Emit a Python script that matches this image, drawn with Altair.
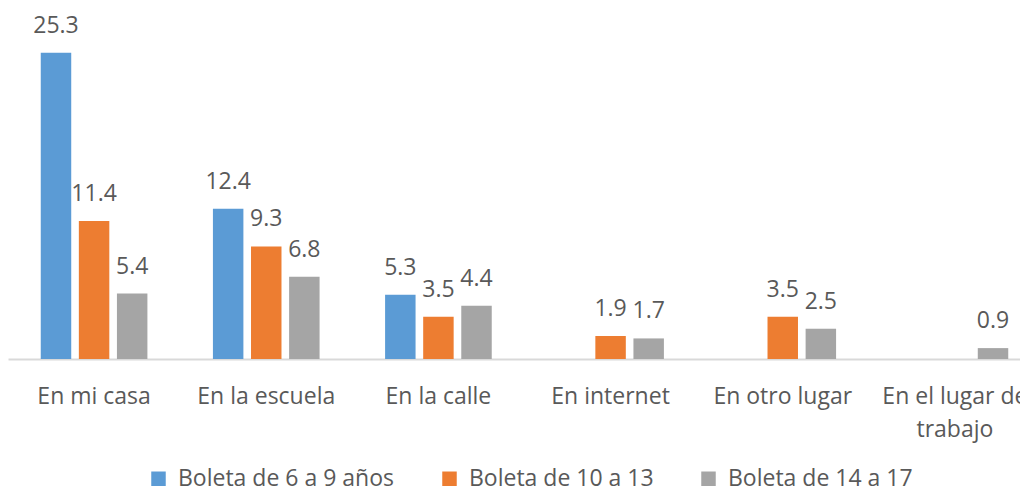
import altair as alt
import pandas as pd

categories = ["En mi casa", "En la escuela", "En la calle", "En internet",
              "En otro lugar", "En el lugar de trabajo"]
series = ["Boleta de 6 a 9 años", "Boleta de 10 a 13", "Boleta de 14 a 17"]
values_6_9 = [25.3, 12.4, 5.3, None, None, None]
values_10_13 = [11.4, 9.3, 3.5, 1.9, 3.5, None]
values_14_17 = [5.4, 6.8, 4.4, 1.7, 2.5, 0.9]
colors = ["#5B9BD5", "#ED7D31", "#A5A5A5"]

rows = []
for s, vals in zip(series, [values_6_9, values_10_13, values_14_17]):
    for c, v in zip(categories, vals):
        if v is not None:
            rows.append({"cat": c, "serie": s, "valor": v})
df = pd.DataFrame(rows)

FONT = "Open Sans"
TXT = "#595959"
FS = 23

x = alt.X(
    "cat:N", sort=categories,
    scale=alt.Scale(domain=categories, paddingInner=0, paddingOuter=0),
    axis=alt.Axis(
        title=None, labelAngle=0, ticks=False, domainColor="#D9D9D9", domainWidth=2,
        labelFont=FONT, labelFontSize=FS, labelColor=TXT, labelPadding=26,
        labelLimit=0, labelLineHeight=33,
        labelExpr="datum.label == 'En el lugar de trabajo' ? ['En el lugar de', 'trabajo'] : datum.label",
    ),
)
xo = alt.XOffset("serie:N", sort=series,
                 scale=alt.Scale(domain=series, paddingInner=0.2, paddingOuter=0.86))
y = alt.Y("valor:Q", scale=alt.Scale(domain=[0, 28], nice=False), axis=None)
color = alt.Color(
    "serie:N", sort=series,
    scale=alt.Scale(domain=series, range=colors),
    legend=alt.Legend(
        title=None, orient="none", direction="horizontal", legendX=139, legendY=447,
        symbolType="square", symbolSize=210, symbolStrokeWidth=0,
        labelFont=FONT, labelFontSize=FS, labelColor=TXT, labelLimit=400,
        labelOffset=8, columnPadding=43,
    ),
)

bars = alt.Chart(df).mark_bar().encode(x=x, xOffset=xo, y=y, color=color)
labels = alt.Chart(df).mark_text(
    baseline="alphabetic", dy=-20, font=FONT, fontSize=FS, color=TXT
).encode(x=x, xOffset=xo, y=y, text=alt.Text("valor:Q", format=".1f"))

chart = (bars + labels).properties(
    width=1033, height=339,
    autosize=alt.AutoSizeParams(type="none"),
    padding={"left": 0, "top": 12, "right": -21, "bottom": 132},
).configure_view(stroke=None)

chart.save("out.html", embed_options={"renderer": "svg", "actions": False})
